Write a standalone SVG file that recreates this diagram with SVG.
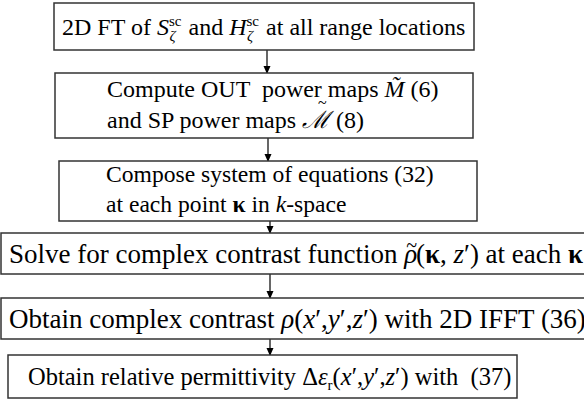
<svg xmlns="http://www.w3.org/2000/svg" width="584" height="411" viewBox="0 0 584 411">
<defs>
<marker id="ah" markerWidth="8" markerHeight="8" refX="7" refY="4" orient="auto" markerUnits="userSpaceOnUse">
<path d="M0,0.5 L8,4 L0,7.5 Z" fill="#000"/>
</marker>
<style>
.box{fill:#fff;stroke:#333;stroke-width:1.5}
.t{font-family:"Liberation Serif","Times New Roman","DejaVu Serif",serif;font-size:24px;fill:#000;white-space:pre}
.i{font-style:italic}
.b{font-weight:bold}
.s{font-size:15px}
.c{stroke:#000;stroke-width:1.2;fill:none}
</style>
</defs>
<rect width="584" height="411" fill="#fff"/>
<g id="connectors">
<line class="c" x1="267" y1="50" x2="267" y2="73" marker-end="url(#ah)"/>
<line class="c" x1="268" y1="138" x2="268" y2="161" marker-end="url(#ah)"/>
<line class="c" x1="270" y1="221" x2="270" y2="233" marker-end="url(#ah)"/>
<line class="c" x1="270" y1="274" x2="270" y2="298" marker-end="url(#ah)"/>
<line class="c" x1="270" y1="339" x2="270" y2="355" marker-end="url(#ah)"/>
</g>
<g id="n1">
<rect class="box" x="54" y="3" width="420" height="47"/>
<text class="t" x="62" y="35">2D FT of <tspan class="i">S</tspan><tspan class="s" dy="-9">sc</tspan><tspan class="s i" dx="-12" dy="15">ζ</tspan><tspan dx="7" dy="-6"> and <tspan class="i">H</tspan></tspan><tspan class="s" dy="-9">sc</tspan><tspan class="s i" dx="-12" dy="15">ζ</tspan><tspan dx="7" dy="-6"> at all range locations</tspan></text>
</g>
<g id="n2">
<rect class="box" x="55" y="73" width="418" height="65"/>
<text class="t" x="107" y="97">Compute OUT  power maps <tspan class="i">M̃</tspan> (6)</text>
<text class="t" x="318" y="108" style="font-size:16px">~</text>
<text class="t" x="107" y="128">and SP power maps <tspan class="i">ℳ</tspan> (8)</text>
</g>
<g id="n3">
<rect class="box" x="59" y="161" width="418" height="60"/>
<text class="t" x="106" y="182" style="font-size:23.6px">Compose system of equations (32)</text>
<text class="t" x="106" y="212" style="font-size:23.6px">at each point <tspan class="b">κ</tspan> in <tspan class="i">k</tspan>-space</text>
</g>
<g id="n4">
<rect class="box" x="1" y="233" width="600" height="41"/>
<text class="t" x="9" y="263" style="font-size:27px">Solve for complex contrast function <tspan class="i">ρ</tspan><tspan style="font-size:20px" dx="-11" dy="-11">~</tspan><tspan dx="-1" dy="11">(<tspan class="b">κ</tspan>, <tspan class="i">z</tspan>′) at each <tspan class="b">κ</tspan></tspan></text>
</g>
<g id="n5">
<rect class="box" x="1" y="298" width="600" height="41"/>
<text class="t" x="9" y="328" style="font-size:27px">Obtain complex contrast <tspan class="i">ρ</tspan>(<tspan class="i">x</tspan>′,<tspan class="i">y</tspan>′,<tspan class="i">z</tspan>′) with 2D IFFT (36)</text>
</g>
<g id="n6">
<rect class="box" x="8" y="355" width="509" height="43"/>
<text class="t" x="28" y="385" style="font-size:24.5px">Obtain relative permittivity Δ<tspan class="i">ε</tspan><tspan class="s" dy="5">r</tspan><tspan dy="-5">(<tspan class="i">x</tspan>′,<tspan class="i">y</tspan>′,<tspan class="i">z</tspan>′) with  (37)</tspan></text>
</g>
</svg>
